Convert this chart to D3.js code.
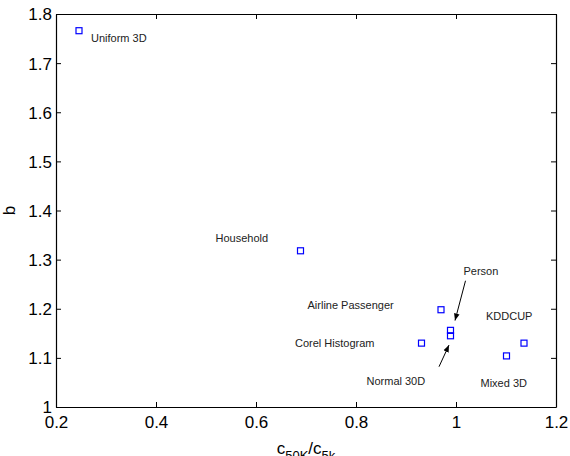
<!DOCTYPE html>
<html>
<head>
<meta charset="utf-8">
<script src="https://cdn.jsdelivr.net/npm/d3@7"></script>
<style>
  body { margin: 0; background: #fff; }
  svg { font-family: "Liberation Sans", Arial, Helvetica, sans-serif; }
</style>
</head>
<body>
<script>
// data sets and their measured (c50K/c5k, b) values
var names = ["Uniform 3D", "Household", "Airline Passenger", "Person", "Normal 30D", "Corel Histogram", "KDDCUP", "Mixed 3D"];
var ratio = [0.246, 0.689, 0.970, 0.989, 0.989, 0.931, 1.136, 1.101];
var bVals = [1.766, 1.318, 1.198, 1.156, 1.145, 1.130, 1.130, 1.104];

// where the text labels sit (data units, left edge / middle)
var labelX = [0.270, 0.519, 0.703, 1.015, 0.821, 0.678, 1.060, 1.049];
var labelY = [1.751, 1.343, 1.208, 1.277, 1.053, 1.130, 1.185, 1.048];

// arrows: from (x1,y1) to (x2,y2)
var arrows = [
  {x1: 1.019, y1: 1.257, x2: 0.998, y2: 1.176},
  {x1: 0.966, y1: 1.082, x2: 0.986, y2: 1.126}
];

var xTicks = [0.2, 0.4, 0.6, 0.8, 1.0, 1.2];
var yTicks = [1, 1.1, 1.2, 1.3, 1.4, 1.5, 1.6, 1.7, 1.8];

var W = 570, H = 456;
var padL = 56, padR = 556, padT = 14, padB = 407;

var svg = d3.select("body").append("svg")
  .attr("width", W)
  .attr("height", H);

var x = d3.scaleLinear().domain([0.2, 1.2]).range([padL, padR]);
var y = d3.scaleLinear().domain([1, 1.8]).range([padB, padT]);

svg.append("defs").append("marker")
  .attr("id", "head")
  .attr("viewBox", "0 0 10 10")
  .attr("refX", 10).attr("refY", 5)
  .attr("markerWidth", 7).attr("markerHeight", 7)
  .attr("markerUnits", "userSpaceOnUse")
  .attr("orient", "auto")
  .append("path").attr("d", "M0,1 L10,5 L0,9 Z").attr("fill", "#000");

// axes with inward ticks, mirrored on top / right
function fmt(d){ return String(+d.toFixed(1)); }
var gx = svg.append("g").attr("transform", "translate(0," + padB + ")")
  .call(d3.axisBottom(x).tickValues(xTicks).tickSizeInner(-5).tickSizeOuter(0).tickPadding(9).tickFormat(fmt));
var gy = svg.append("g").attr("transform", "translate(" + padL + ",0)")
  .call(d3.axisLeft(y).tickValues(yTicks).tickSizeInner(-5).tickSizeOuter(0).tickPadding(4).tickFormat(fmt));
var gx2 = svg.append("g").attr("transform", "translate(0," + padT + ")")
  .call(d3.axisTop(x).tickValues(xTicks).tickSizeInner(-5).tickSizeOuter(0).tickFormat(""));
var gy2 = svg.append("g").attr("transform", "translate(" + padR + ",0)")
  .call(d3.axisRight(y).tickValues(yTicks).tickSizeInner(-5).tickSizeOuter(0).tickFormat(""));

[gx, gy, gx2, gy2].forEach(function(g){
  g.selectAll("path.domain").attr("stroke", "#000").attr("stroke-width", 1.2);
  g.selectAll(".tick line").attr("stroke", "#000");
  g.selectAll(".tick text").attr("fill", "#000").attr("font-size", 17)
    .attr("font-family", "Liberation Sans, Arial, sans-serif");
});
gy.selectAll(".tick text").attr("dy", "0.35em");

// axis labels
var xl = svg.append("text")
  .attr("x", (padL + padR) / 2).attr("y", 453.5)
  .attr("text-anchor", "middle")
  .attr("font-size", 17).attr("fill", "#000");
xl.append("tspan").text("c");
xl.append("tspan").attr("font-size", 13).attr("dy", 6).text("50K");
xl.append("tspan").attr("dy", -6).text("/c");
xl.append("tspan").attr("font-size", 13).attr("dy", 6).text("5k");

svg.append("text")
  .attr("transform", "translate(15," + ((padT + padB) / 2) + ") rotate(-90)")
  .attr("text-anchor", "middle")
  .attr("font-size", 17).attr("fill", "#000")
  .text("b");

// points
var pts = names.map(function(n, i){ return {name: n, x: ratio[i], y: bVals[i], lx: labelX[i], ly: labelY[i]}; });

svg.selectAll("rect.pt").data(pts).enter().append("rect")
  .attr("class", "pt")
  .attr("x", function(d){ return x(d.x) - 3; })
  .attr("y", function(d){ return y(d.y) - 3; })
  .attr("width", 6).attr("height", 6)
  .attr("fill", "none").attr("stroke", "#0000ff").attr("stroke-width", 1.2);

svg.selectAll("text.lbl").data(pts).enter().append("text")
  .attr("class", "lbl")
  .attr("x", function(d){ return x(d.lx); })
  .attr("y", function(d){ return y(d.ly); })
  .attr("dy", "0.35em")
  .attr("font-size", 11).attr("fill", "#222")
  .text(function(d){ return d.name; });

svg.selectAll("line.arr").data(arrows).enter().append("line")
  .attr("class", "arr")
  .attr("x1", function(d){ return x(d.x1); })
  .attr("y1", function(d){ return y(d.y1); })
  .attr("x2", function(d){ return x(d.x2); })
  .attr("y2", function(d){ return y(d.y2); })
  .attr("stroke", "#000").attr("stroke-width", 1)
  .attr("marker-end", "url(#head)");
</script>
</body>
</html>
